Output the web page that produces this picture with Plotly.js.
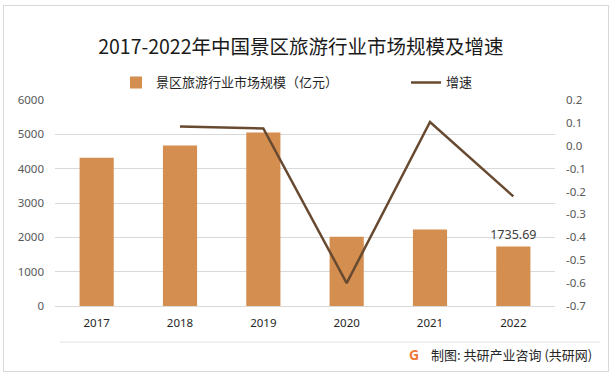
<!DOCTYPE html>
<html>
<head>
<meta charset="utf-8">
<script src="https://cdn.plot.ly/plotly-3.0.1.min.js"></script>
<style>
html,body{margin:0;padding:0;background:#fff;}
#wrap{position:relative;width:614px;height:376px;}
#chart{width:614px;height:376px;}
#frame{position:absolute;left:3px;top:5px;width:604px;height:365px;border:1px solid #d9d9d9;pointer-events:none;}
</style>
</head>
<body>
<div id="wrap"><div id="chart"></div><div id="frame"></div></div>
<script>
const years = ['2017', '2018', '2019', '2020', '2021', '2022'];
const scale = [4321, 4672, 5051, 2015, 2225, 1735.69];
const growthYears = ['2018', '2019', '2020', '2021', '2022'];
const growth = [0.084, 0.076, -0.600, 0.104, -0.221];
const leftTicks = [0, 1000, 2000, 3000, 4000, 5000, 6000];
const rightTicks = [-0.7, -0.6, -0.5, -0.4, -0.3, -0.2, -0.1, 0.0, 0.1, 0.2];
const rightTickText = ['-0.7', '-0.6', '-0.5', '-0.4', '-0.3', '-0.2', '-0.1', '0.0', '0.1', '0.2'];
const labelIndex = 5;

const cjk = '"Noto Sans CJK SC", "Noto Sans", sans-serif';
const legendFont = {family: cjk, size: 13, color: '#262626'};

const traces = [
  {
    type: 'bar',
    name: '景区旅游行业市场规模（亿元）',
    legend: 'legend',
    x: years,
    y: scale,
    marker: {color: '#D48E4F'},
    text: scale.map((v, i) => i === labelIndex ? v.toFixed(2) : ''),
    textposition: 'outside',
    constraintext: 'none',
    textfont: {family: 'Noto Sans, sans-serif', size: 12.5, color: '#404040'},
    cliponaxis: false,
    hoverinfo: 'skip'
  },
  {
    type: 'scatter',
    mode: 'lines',
    name: '增速',
    legend: 'legend2',
    x: growthYears,
    y: growth,
    yaxis: 'y2',
    line: {color: '#684A31', width: 2.5},
    hoverinfo: 'skip'
  }
];

const layout = {
  width: 614,
  height: 376,
  margin: {l: 55, r: 59, t: 100, b: 70},
  paper_bgcolor: '#ffffff',
  plot_bgcolor: '#ffffff',
  font: {family: cjk, color: '#404040'},
  bargap: 0.59,
  showlegend: true,
  title: {
    text: '2017-2022年中国景区旅游行业市场规模及增速',
    font: {family: cjk, size: 19.5, color: '#1a1a1a'},
    xref: 'container', yref: 'container',
    x: 0.49, xanchor: 'center',
    y: 1 - 47 / 376, yanchor: 'middle'
  },
  legend: {
    orientation: 'h',
    x: (116 - 55) / 500, xanchor: 'left',
    y: (306 - 83) / 205.5, yanchor: 'middle',
    font: legendFont,
    bgcolor: 'rgba(0,0,0,0)'
  },
  legend2: {
    orientation: 'h',
    x: (406 - 55) / 500, xanchor: 'left',
    y: (306 - 83) / 205.5, yanchor: 'middle',
    font: legendFont,
    bgcolor: 'rgba(0,0,0,0)'
  },
  xaxis: {
    type: 'category',
    categoryorder: 'array',
    categoryarray: years,
    showgrid: false,
    showline: false,
    zeroline: false,
    ticks: '',
    tickfont: {family: 'Noto Sans, sans-serif', size: 11.5, color: '#262626'},
    ticklabelstandoff: 8,
    fixedrange: true
  },
  yaxis: {
    range: [0, 6000],
    tickvals: leftTicks,
    showgrid: true,
    gridcolor: '#d9d9d9',
    gridwidth: 1,
    zeroline: true,
    zerolinecolor: '#d9d9d9',
    showline: false,
    ticks: '',
    tickfont: {family: 'Noto Sans, sans-serif', size: 11.5, color: '#595959'},
    ticklabelstandoff: 10,
    fixedrange: true
  },
  yaxis2: {
    overlaying: 'y',
    side: 'right',
    range: [-0.7, 0.2],
    tickvals: rightTicks,
    ticktext: rightTickText,
    showgrid: false,
    zeroline: false,
    showline: false,
    ticks: '',
    tickfont: {family: 'Noto Sans, sans-serif', size: 11.5, color: '#595959'},
    ticklabelstandoff: 10,
    fixedrange: true
  },
  shapes: [
    {type: 'line', xref: 'paper', yref: 'paper',
     x0: (60 - 55) / 500, x1: (600 - 55) / 500,
     y0: (306 - 342) / 205.5, y1: (306 - 342) / 205.5,
     line: {color: '#e3e3e3', width: 1}}
  ],
  annotations: [
    {xref: 'paper', yref: 'paper', x: (414 - 55) / 500, y: (306 - 354) / 205.5,
     text: '<b>G</b>', showarrow: false, xanchor: 'center', yanchor: 'middle',
     font: {family: 'Noto Sans, sans-serif', size: 14, color: '#F0783A'}},
    {xref: 'paper', yref: 'paper', x: (429 - 55) / 500, y: (306 - 354) / 205.5,
     text: '制图: 共研产业咨询 (共研网)', showarrow: false, xanchor: 'left', yanchor: 'middle',
     font: {family: cjk, size: 13, color: '#262626'}}
  ]
};

Plotly.newPlot('chart', traces, layout, {displayModeBar: false, staticPlot: true});
</script>
</body>
</html>
